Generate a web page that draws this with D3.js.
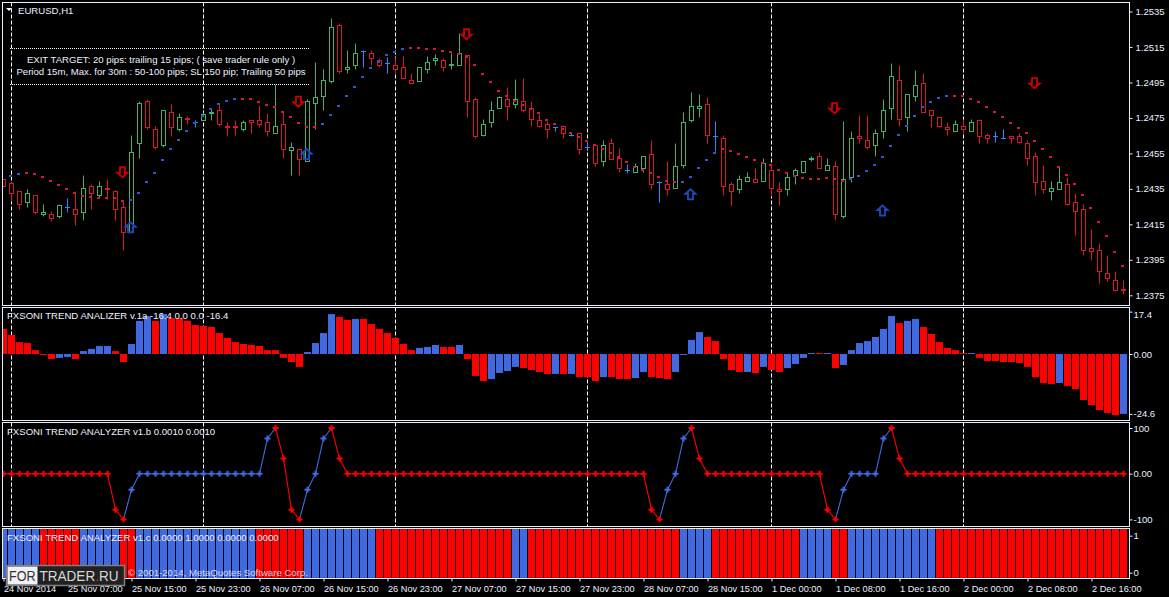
<!DOCTYPE html>
<html><head><meta charset="utf-8">
<script src="https://cdnjs.cloudflare.com/ajax/libs/d3/7.8.5/d3.min.js"></script>
<style>
html,body{margin:0;padding:0;background:#000;overflow:hidden}
svg{display:block}
text{font-family:"Liberation Sans",Arial,sans-serif;font-size:9.6px;fill:#eef0ff}
</style></head><body>
<script>
// ---------- price data (H1 candles) ----------
const opens=[1.24404,1.24378,1.24337,1.24273,1.24314,1.24205,1.24207,1.24194,1.24246,1.24235,
1.24216,1.24365,1.24314,1.24352,1.24337,1.24246,1.24105,1.24607,1.24844,1.24686,
1.24594,1.24782,1.24686,1.24744,1.24724,1.24737,1.24780,1.24794,1.24702,1.24702,
1.24686,1.24735,1.24737,1.24726,1.24662,1.24714,1.24568,1.24574,1.24506,1.24833,
1.24871,1.24955,1.25273,1.25025,1.25047,1.25126,1.25115,1.25076,1.25059,1.25047,
1.25036,1.24963,1.24955,1.25025,1.25076,1.25076,1.25050,1.25045,1.25104,1.24856,
1.24651,1.24726,1.24803,1.24856,1.24825,1.24844,1.24805,1.24737,1.24714,1.24698,
1.24701,1.24652,1.24664,1.24583,1.24596,1.24504,1.24607,1.24523,1.24455,1.24442,
1.24465,1.24545,1.24387,1.24376,1.24352,1.24482,1.24737,1.24805,1.24827,1.24647,
1.24636,1.24376,1.24346,1.24391,1.24404,1.24391,1.24455,1.24348,1.24346,1.24425,
1.24442,1.24518,1.24534,1.24455,1.24478,1.24194,1.24416,1.24647,1.24624,1.24594,
1.24675,1.24805,1.24963,1.24754,1.24872,1.24946,1.24794,1.24754,1.24698,1.24675,
1.24703,1.24675,1.24737,1.24652,1.24647,1.24636,1.24647,1.24647,1.24607,1.24534,
1.24393,1.24337,1.24346,1.24376,1.24275,1.24235,1.24015,1.24004,1.23872,1.23835,1.23782];
const closes=[1.24363,1.24325,1.24263,1.24325,1.24216,1.24218,1.24184,1.24258,1.24246,1.24207,
1.24354,1.24325,1.24365,1.24350,1.24235,1.24105,1.24557,1.24833,1.24694,1.24583,
1.24794,1.24698,1.24754,1.24742,1.24724,1.24771,1.24782,1.24713,1.24700,1.24700,
1.24726,1.24724,1.24713,1.24675,1.24703,1.24574,1.24583,1.24515,1.24844,1.24867,
1.24963,1.25262,1.25012,1.25036,1.25115,1.25126,1.25087,1.25045,1.25059,1.25025,
1.24972,1.24946,1.25036,1.25064,1.25087,1.25034,1.25052,1.25115,1.24844,1.24645,
1.24714,1.24794,1.24867,1.24814,1.24856,1.24792,1.24741,1.24701,1.24684,1.24698,
1.24662,1.24652,1.24572,1.24583,1.24495,1.24596,1.24515,1.24465,1.24455,1.24478,
1.24534,1.24374,1.24387,1.24346,1.24478,1.24726,1.24816,1.24816,1.24651,1.24647,
1.24365,1.24335,1.24404,1.24416,1.24386,1.24495,1.24352,1.24335,1.24416,1.24455,
1.24506,1.24520,1.24465,1.24483,1.24205,1.24404,1.24636,1.24636,1.24583,1.24664,
1.24794,1.24985,1.24743,1.24884,1.24934,1.24782,1.24765,1.24701,1.24686,1.24714,
1.24686,1.24726,1.24645,1.24636,1.24647,1.24636,1.24636,1.24611,1.24523,1.24387,
1.24348,1.24354,1.24387,1.24261,1.24224,1.24002,1.23998,1.23886,1.23846,1.23776,1.23780];
const highs=[1.24404,1.24391,1.24337,1.24348,1.24314,1.24263,1.24224,1.24263,1.24297,1.24337,
1.24427,1.24376,1.24393,1.24404,1.24342,1.24286,1.24649,1.24844,1.24856,1.24700,
1.24794,1.24827,1.24777,1.24756,1.24737,1.24782,1.24803,1.24833,1.24726,1.24737,
1.24737,1.24735,1.24818,1.24777,1.24940,1.24788,1.24613,1.24574,1.24856,1.25064,
1.25025,1.25309,1.25284,1.25128,1.25168,1.25132,1.25132,1.25087,1.25092,1.25092,
1.25094,1.25002,1.25036,1.25094,1.25106,1.25087,1.25115,1.25224,1.25104,1.24867,
1.24743,1.24844,1.24872,1.24923,1.24965,1.24974,1.24844,1.24771,1.24730,1.24698,
1.24705,1.24670,1.24664,1.24617,1.24602,1.24624,1.24636,1.24575,1.24485,1.24495,
1.24534,1.24624,1.24393,1.24506,1.24607,1.24782,1.24895,1.24884,1.24867,1.24728,
1.24653,1.24387,1.24427,1.24444,1.24466,1.24523,1.24483,1.24387,1.24438,1.24466,
1.24506,1.24534,1.24557,1.24519,1.24506,1.24728,1.24675,1.24765,1.24765,1.24686,
1.24856,1.25055,1.25047,1.24884,1.25015,1.25002,1.24794,1.24754,1.24726,1.24737,
1.24743,1.24743,1.24743,1.24664,1.24675,1.24686,1.24651,1.24664,1.24624,1.24557,
1.24483,1.24393,1.24476,1.24416,1.24325,1.24263,1.24119,1.24040,1.23976,1.23886,1.23835];
const lows=[1.24363,1.24278,1.24235,1.24246,1.24205,1.24194,1.24166,1.24184,1.24216,1.24143,
1.24171,1.24235,1.24303,1.24292,1.24171,1.24002,1.24105,1.24521,1.24683,1.24572,
1.24583,1.24645,1.24671,1.24711,1.24698,1.24737,1.24735,1.24701,1.24645,1.24651,
1.24675,1.24662,1.24698,1.24645,1.24662,1.24521,1.24425,1.24425,1.24506,1.24686,
1.24792,1.24944,1.24998,1.25000,1.25023,1.25034,1.25045,1.25034,1.25000,1.25002,
1.24972,1.24946,1.24955,1.25000,1.25045,1.25012,1.25023,1.25045,1.24752,1.24634,
1.24645,1.24694,1.24803,1.24735,1.24803,1.24780,1.24701,1.24696,1.24634,1.24673,
1.24634,1.24643,1.24544,1.24572,1.24476,1.24476,1.24515,1.24442,1.24436,1.24442,
1.24442,1.24344,1.24273,1.24312,1.24352,1.24465,1.24724,1.24750,1.24606,1.24562,
1.24312,1.24256,1.24323,1.24391,1.24386,1.24391,1.24307,1.24256,1.24312,1.24374,
1.24436,1.24502,1.24465,1.24455,1.24171,1.24183,1.24386,1.24606,1.24570,1.24532,
1.24634,1.24741,1.24701,1.24673,1.24842,1.24782,1.24696,1.24696,1.24651,1.24675,
1.24664,1.24675,1.24606,1.24606,1.24611,1.24636,1.24606,1.24606,1.24482,1.24312,
1.24323,1.24284,1.24346,1.24256,1.24087,1.23974,1.23946,1.23816,1.23827,1.23776,1.23756];
const dotValues=[null,1.24425,1.24436,1.24440,1.24436,1.24419,1.24397,1.24374,1.24352,1.24329,
1.24312,1.24307,1.24301,1.24301,1.24301,1.24284,1.24290,1.24329,1.24386,1.24442,
1.24510,1.24572,1.24628,1.24679,1.24724,1.24763,1.24803,1.24827,1.24848,1.24854,
1.24859,1.24854,1.24842,1.24825,1.24809,1.24786,1.24758,1.24724,1.24701,1.24701,
1.24718,1.24769,1.24820,1.24876,1.24927,1.24983,1.25029,1.25068,1.25102,1.25124,
1.25141,1.25147,1.25147,1.25141,1.25136,1.25130,1.25119,1.25113,1.25096,1.25051,
1.25000,1.24950,1.24904,1.24871,1.24848,1.24825,1.24803,1.24775,1.24741,1.24718,
1.24690,1.24667,1.24645,1.24622,1.24600,1.24577,1.24555,1.24527,1.24504,1.24476,
1.24459,1.24442,1.24419,1.24397,1.24386,1.24391,1.24419,1.24470,1.24515,1.24555,
1.24572,1.24566,1.24549,1.24532,1.24510,1.24498,1.24482,1.24459,1.24442,1.24425,
1.24414,1.24408,1.24408,1.24414,1.24403,1.24397,1.24403,1.24425,1.24453,1.24487,
1.24532,1.24594,1.24651,1.24707,1.24763,1.24809,1.24842,1.24865,1.24876,1.24876,
1.24871,1.24859,1.24837,1.24814,1.24786,1.24758,1.24724,1.24696,1.24667,1.24622,
1.24577,1.24527,1.24476,1.24431,1.24380,1.24318,1.24244,1.24166,1.24087,1.23996,1.23917];
const dotBlueRanges=[[1,2],[16,29],[40,50],[85,89],[106,118]];
const arrowBars=[15,16,37,38,58,86,104,110,129];
const arrowPrices=[1.24444,1.24134,1.24842,1.24547,1.25222,1.24320,1.24805,1.24228,1.24946];
const arrowDirs=["down","up","down","up","down","up","down","up","down"];
const priceTicks=[1.2535,1.2515,1.2495,1.2475,1.2455,1.2435,1.2415,1.2395,1.2375];

// ---------- indicator a ----------
const histA=[10.3,7.8,4.9,4.5,1.6,-0.4,-2.1,-1.6,-1.2,-2.1,1.2,2.1,3.3,3.3,1.2,-3.3,4.1,13.6,15.6,13.6,
16.4,14.8,14.8,13.6,11.9,11.5,11.1,8.6,6.6,4.9,4.1,3.7,3.3,1.6,1.6,-1.6,-3.3,-5.3,0.8,4.5,
8.6,16.4,15.2,14.0,14.4,14.4,12.3,10.3,8.6,6.6,4.1,1.6,2.5,2.9,3.7,2.9,2.9,3.7,-2.1,-9.0,
-11.1,-10.3,-7.8,-7.0,-5.3,-5.8,-6.6,-7.4,-8.2,-8.2,-8.2,-8.2,-9.5,-9.5,-11.1,-9.5,-9.5,-10.3,-10.3,-9.9,
-7.4,-9.5,-9.9,-10.3,-7.4,-0.4,5.8,9.0,7.0,5.3,-2.1,-6.6,-7.4,-7.4,-7.8,-5.3,-6.6,-7.4,-5.8,-4.1,
-1.6,0.4,0.4,0.4,-5.8,-4.5,1.6,4.5,5.3,7.0,10.3,15.6,12.7,13.6,14.4,11.1,8.2,4.9,2.5,1.6,
0.4,0.4,-1.6,-2.9,-2.9,-3.3,-3.3,-3.7,-5.3,-9.5,-11.9,-12.3,-11.9,-13.2,-14.4,-18.9,-21.0,-23.0,-24.2,-25.1,-24.6];
const histABlue=[7,8,10,11,12,13,16,17,18,20,38,39,40,41,44,52,53,54,57,61,62,63,64,69,71,75,79,80,84,85,86,87,93,95,98,99,100,101,103,105,106,107,108,109,110,111,113,114,121,132,140];
const histATicks=[17.4,0,-24.6];
const histATickLabels=["17.4","0.00","-24.6"];

// ---------- indicator b ----------
const lineB=[0,0,0,0,0,0,0,0,0,0,0,0,0,0,-79,-100,-35,
0,0,0,0,0,0,0,0,0,0,0,0,0,0,0,0,
77,100,33,-79,-100,-35,0,77,100,33,
0,0,0,0,0,0,0,0,0,0,0,0,0,0,0,0,0,0,0,0,0,0,0,0,0,0,0,0,0,0,0,0,0,0,0,0,0,0,
-79,-100,-35,0,77,100,33,
0,0,0,0,0,0,0,0,0,0,0,0,0,0,0,
-79,-100,-35,0,0,0,0,77,100,33,
0,0,0,0,0,0,0,0,0,0,0,0,0,0,0,0,0,0,0,0,0,0,0,0,0,0,0,0];
const lineBBlueRanges=[[16,33],[38,40],[83,85],[105,110]];
const lineBTicks=[100,0,-100];
const lineBTickLabels=["100","0.00","-100"];

// ---------- indicator c ----------
const barCBlueRanges=[[0,4],[10,14],[17,31],[38,46],[64,65],[85,88],[100,103],[106,116]];
const barCTicks=[1,0];

// ---------- time axis ----------
const timeTickBars=[0,8,16,24,32,40,48,56,64,72,80,88,96,104,112,120,128,136];
const timeTickLabels=["24 Nov 2014","25 Nov 07:00","25 Nov 15:00","25 Nov 23:00","26 Nov 07:00","26 Nov 15:00","26 Nov 23:00","27 Nov 07:00","27 Nov 15:00","27 Nov 23:00","28 Nov 07:00","28 Nov 15:00","1 Dec 00:00","1 Dec 08:00","1 Dec 16:00","2 Dec 00:00","2 Dec 08:00","2 Dec 16:00"];
const gridBars=[1,25,49,73,96,120];

// ---------- texts ----------
const chartTitle="EURUSD,H1";
const noteLines=["EXIT TARGET: 20 pips: trailing 15 pips; ( save trader rule only )","Period 15m, Max. for 30m  : 50-100 pips; SL 150 pip; Trailing 50 pips"];
const titleA="FXSONI TREND ANALIZER v.1a -16.4 0.0 0.0 -16.4";
const titleB="FXSONI TREND ANALYZER v1.b 0.0010 0.0010";
const titleC="FXSONI TREND ANALYZER v1.c 0.0000 1.0000 0.0000 0.0000";
const copyright="\u00A9 2001-2014, MetaQuotes Software Corp.";

// ---------- drawing ----------
const W=1169,H=597;
const RED="#ff0000",BLUE="#4169e1",CANDLE_RED="#dc143c",CANDLE_GREEN="#3cb371",DOJI="#1e90ff",FRAME="#eeeefc";
const inRanges=(i,rs)=>rs.some(r=>i>=r[0]&&i<=r[1]);
const snap=v=>Math.round(v-0.5)+0.5;
const svg=d3.select("body").append("svg").attr("width",W).attr("height",H).style("background","#000");

const frameL=2.5,frameR=1129.5;
const panes={
  main:{top:2.5,bottom:305.5},
  a:{top:307.5,bottom:420.5},
  b:{top:422.5,bottom:526.5},
  c:{top:528.5,bottom:578.5}
};
const x=d3.scaleLinear().domain([0,140]).range([3.5,1123.5]);
const yP=d3.scaleLinear().domain([1.2375,1.2535]).range([295.3,11.5]);
const yA=d3.scaleLinear().domain([0,-24.6]).range([354,413.9]);
const yB=d3.scaleLinear().domain([-100,100]).range([519.4,428]);
const yC=d3.scaleLinear().domain([0,1]).range([572.7,535.7]);
const barCLow=-0.14,barCHigh=1.18;

const defs=svg.append("defs");
Object.entries(panes).forEach(([k,p])=>{
  defs.append("clipPath").attr("id","clip-"+k).append("rect")
    .attr("x",frameL).attr("y",p.top).attr("width",frameR-frameL).attr("height",p.bottom-p.top);
});

// vertical dashed grid
const gridG=svg.append("g").attr("stroke","#fff").attr("stroke-dasharray","4,2");
["main","a","b"].forEach(k=>{
  gridG.selectAll(null).data(gridBars).join("line")
    .attr("x1",d=>x(d)).attr("x2",d=>x(d))
    .attr("y1",panes[k].top).attr("y2",panes[k].bottom);
});

// main pane
const main=svg.append("g").attr("clip-path","url(#clip-main)");
const idx=d3.range(opens.length);
const candleCol=i=>closes[i]>opens[i]?CANDLE_GREEN:closes[i]<opens[i]?CANDLE_RED:DOJI;
main.selectAll(".wick").data(idx).join("line").attr("class","wick")
  .attr("x1",i=>x(i)).attr("x2",i=>x(i))
  .attr("y1",i=>snap(yP(highs[i]))).attr("y2",i=>snap(yP(lows[i])))
  .attr("stroke",candleCol);
main.selectAll(".body").data(idx.filter(i=>opens[i]!==closes[i])).join("rect").attr("class","body")
  .attr("x",i=>x(i)-2).attr("width",4)
  .attr("y",i=>snap(yP(Math.max(opens[i],closes[i]))))
  .attr("height",i=>Math.max(1,snap(yP(Math.min(opens[i],closes[i])))-snap(yP(Math.max(opens[i],closes[i])))))
  .attr("fill","#000").attr("stroke",candleCol);
main.selectAll(".doji").data(idx.filter(i=>opens[i]===closes[i])).join("line").attr("class","doji")
  .attr("x1",i=>x(i)-2.5).attr("x2",i=>x(i)+2.5)
  .attr("y1",i=>snap(yP(opens[i]))).attr("y2",i=>snap(yP(opens[i])))
  .attr("stroke",DOJI);
// trend dots
main.selectAll(".dot").data(idx.filter(i=>dotValues[i]!==null)).join("rect").attr("class","dot")
  .attr("x",i=>x(i)-2.5).attr("width",3).attr("height",2)
  .attr("y",i=>Math.round(yP(dotValues[i]))-1)
  .attr("fill",i=>inRanges(i,dotBlueRanges)?"#2f55d4":CANDLE_RED);
// signal arrows
const arrowDown="M-2.5,-5 H2.5 V0.5 H5 L0,5 L-5,0.5 H-2.5 Z";
const arrowUp="M-2.5,5 H2.5 V-0.5 H5 L0,-5 L-5,-0.5 H-2.5 Z";
main.selectAll(".arrow").data(d3.range(arrowBars.length)).join("path").attr("class","arrow")
  .attr("d",i=>arrowDirs[i]==="down"?arrowDown:arrowUp)
  .attr("transform",i=>`translate(${x(arrowBars[i])-1},${yP(arrowPrices[i])})`)
  .attr("fill","none").attr("stroke-width",1.9)
  .attr("stroke",i=>arrowDirs[i]==="down"?"#c80000":"#1f48b4");
// note block
const noteG=svg.append("g");
noteG.selectAll("line").data([48.5,84.5]).join("line")
  .attr("x1",10).attr("x2",310).attr("y1",d=>d).attr("y2",d=>d)
  .attr("stroke","#fff").attr("stroke-dasharray","1,1");
noteG.selectAll("text").data(noteLines).join("text")
  .attr("x",161).attr("y",(d,i)=>63+i*12).attr("text-anchor","middle").text(d=>d);
svg.append("path").attr("d","M6,8 H12 L9,11 Z").attr("fill","#fff");
svg.append("text").attr("x",18).attr("y",14).text(chartTitle);

// pane a
const paneA=svg.append("g").attr("clip-path","url(#clip-a)");
paneA.selectAll("rect").data(idx).join("rect")
  .attr("x",i=>x(i)-3.5).attr("width",7)
  .attr("y",i=>yA(Math.max(0,histA[i])))
  .attr("height",i=>Math.abs(yA(histA[i])-yA(0)))
  .attr("fill",i=>histABlue.includes(i)?BLUE:RED);
svg.append("text").attr("x",7).attr("y",319).text(titleA);

// pane b
const paneB=svg.append("g").attr("clip-path","url(#clip-b)");
const isBlueB=i=>inRanges(i,lineBBlueRanges);
paneB.selectAll("line").data(idx.slice(1)).join("line")
  .attr("x1",i=>x(i-1)).attr("x2",i=>x(i))
  .attr("y1",i=>yB(lineB[i-1])).attr("y2",i=>yB(lineB[i]))
  .attr("stroke",i=>(isBlueB(i)||isBlueB(i-1))?BLUE:RED).attr("stroke-width",1.1);
paneB.selectAll("path").data(idx).join("path")
  .attr("d",d3.symbol(d3.symbolCross,20))
  .attr("transform",i=>`translate(${x(i)},${yB(lineB[i])})`)
  .attr("fill",i=>isBlueB(i)?BLUE:RED);
svg.append("text").attr("x",7).attr("y",434.5).text(titleB);

// pane c
const paneC=svg.append("g").attr("clip-path","url(#clip-c)");
paneC.selectAll("rect").data(idx).join("rect")
  .attr("x",i=>x(i)-3.5).attr("width",7)
  .attr("y",yC(barCHigh)).attr("height",yC(barCLow)-yC(barCHigh))
  .attr("fill",i=>inRanges(i,barCBlueRanges)?BLUE:RED);
svg.append("text").attr("x",7).attr("y",540.5).text(titleC);
svg.append("text").attr("x",128).attr("y",575.5).attr("fill-opacity",0.85).text(copyright);

// frames
svg.append("g").selectAll("rect").data(Object.values(panes)).join("rect")
  .attr("x",frameL).attr("y",d=>d.top).attr("width",frameR-frameL).attr("height",d=>d.bottom-d.top)
  .attr("fill","none").attr("stroke",FRAME);

// axes
function styleAxis(g,size){
  g.select(".domain").remove();
  g.selectAll(".tick line").attr("stroke",FRAME);
  g.selectAll(".tick text").style("font-family",'"Liberation Sans",Arial,sans-serif').style("font-size",(size||9.5)+"px");
}
const axisR=(scale,vals,fmt,pad)=>d3.axisRight(scale).tickValues(vals).tickFormat(fmt).tickSize(3).tickPadding(pad);
svg.append("g").attr("transform",`translate(${frameR},0)`)
  .call(axisR(yP,priceTicks,d3.format(".4f"),3)).call(g=>styleAxis(g));
const gA=svg.append("g").attr("transform",`translate(${frameR},0)`)
  .call(axisR(yA,histATicks,(d,i)=>histATickLabels[i],1)).call(g=>styleAxis(g));
gA.selectAll(".tick").filter(d=>d===17.4).selectAll("text").attr("dy","0.32em").attr("y",2.5);
svg.append("g").attr("transform",`translate(${frameR},0)`)
  .call(axisR(yB,lineBTicks,(d,i)=>lineBTickLabels[i],1)).call(g=>styleAxis(g));
svg.append("g").attr("transform",`translate(${frameR},0)`)
  .call(axisR(yC,barCTicks,d3.format("d"),1)).call(g=>styleAxis(g));
svg.append("g").attr("transform",`translate(0,${panes.c.bottom})`)
  .call(d3.axisBottom(x).tickValues(timeTickBars).tickFormat((d,i)=>timeTickLabels[i]).tickSize(3).tickPadding(3))
  .call(g=>styleAxis(g,9.2))
  .selectAll(".tick text").attr("text-anchor","start").attr("x",0).attr("dy","0.85em");

// watermark
const logo=svg.append("g");
logo.append("rect").attr("x",6.5).attr("y",565.5).attr("width",118).attr("height",20).attr("fill","#222").attr("stroke","#808080").attr("stroke-width",1.5);
logo.append("rect").attr("x",7.5).attr("y",566.5).attr("width",30).attr("height",18).attr("fill","#f1f1f1");
logo.append("text").attr("x",9).attr("y",581).attr("textLength",26.5).attr("lengthAdjust","spacingAndGlyphs").style("font-size","14.5px").style("fill","#333").text("FOR");
const brand=logo.append("text").attr("x",39.5).attr("y",581).attr("textLength",79).attr("lengthAdjust","spacingAndGlyphs").style("font-size","14.5px").style("fill","#d8d8d8");
brand.append("tspan").text("TRADER");
brand.append("tspan").style("fill","#e02020").text(".");
brand.append("tspan").text("RU");
</script>
</body></html>
